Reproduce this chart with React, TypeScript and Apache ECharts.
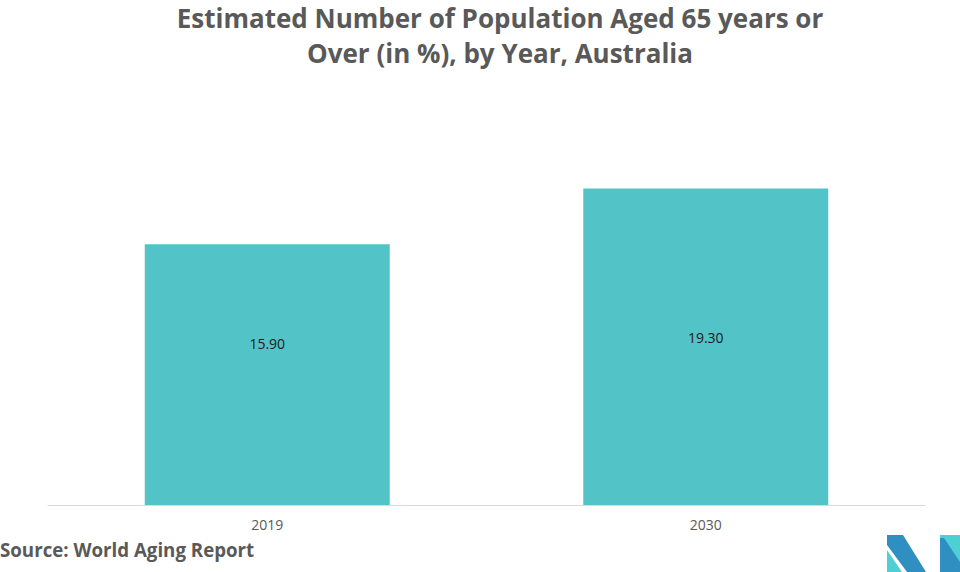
import React, { useEffect, useRef } from "react";
import * as echarts from "echarts";

const titleLines = ["Estimated Number of Population Aged 65 years or", "Over (in %), by Year, Australia"];
const categories = ["2019", "2030"];
const values = [15.9, 19.3];
const sourceText = "Source: World Aging Report";

export default function App() {
  const ref = useRef<HTMLDivElement>(null);
  useEffect(() => {
    document.body.style.margin = "0";
    const chart = echarts.init(ref.current!, null, { renderer: "svg" });
    const labelPos = [["50%", "38%"], ["50%", "47%"]];
    chart.setOption({
      animation: false,
      backgroundColor: "#ffffff",
      title: {
        text: titleLines.join("\n"),
        left: 500,
        textAlign: "center",
        top: 0,
        padding: 0,
        textStyle: {
          fontFamily: "Open Sans",
          fontWeight: "bold",
          fontSize: 26,
          color: "#595959",
          lineHeight: 35,
        },
      },
      grid: { left: 48, right: 35, top: 177, bottom: 67 },
      xAxis: {
        type: "category",
        data: categories,
        axisLine: { lineStyle: { color: "#d9d9d9", width: 1 } },
        axisTick: { show: false },
        axisLabel: { color: "#595959", fontSize: 14, fontFamily: "Open Sans", margin: 12 },
      },
      yAxis: { type: "value", min: 0, max: 20, show: false, splitLine: { show: false } },
      series: [
        {
          type: "bar",
          barWidth: 245,
          itemStyle: { color: "#52C4C8" },
          data: values.map((v, i) => ({
            value: v,
            label: { position: labelPos[i] },
          })),
          label: {
            show: true,
            formatter: (p: any) => p.value.toFixed(2),
            color: "#1a1a1a",
            fontSize: 14,
            fontFamily: "Open Sans",
            align: "center",
            verticalAlign: "middle",
          },
        },
      ],
      graphic: [
        {
          type: "text",
          left: 0,
          top: 540,
          style: {
            text: sourceText,
            fill: "#595959",
            font: "bold 18.7px 'Open Sans'",
          },
        },
        {
          type: "polygon",
          shape: { points: [[887, 535], [903, 535], [926, 572], [907, 572], [887, 545]] },
          style: { fill: "#2E8FC0" },
        },
        {
          type: "polygon",
          shape: { points: [[887, 550], [887, 572], [902, 572]] },
          style: { fill: "#4ECFD3" },
        },
        {
          type: "polygon",
          shape: { points: [[940, 535], [960, 535], [960, 572], [940, 572]] },
          style: { fill: "#4ECFD3" },
        },
        {
          type: "polygon",
          shape: { points: [[940, 538], [944, 538], [960, 562], [960, 572], [940, 572]] },
          style: { fill: "#2E8FC0" },
        },
      ],
    });
    return () => chart.dispose();
  }, []);
  return <div ref={ref} style={{ width: 960, height: 572, position: "fixed", left: 0, top: 0 }} />;
}
